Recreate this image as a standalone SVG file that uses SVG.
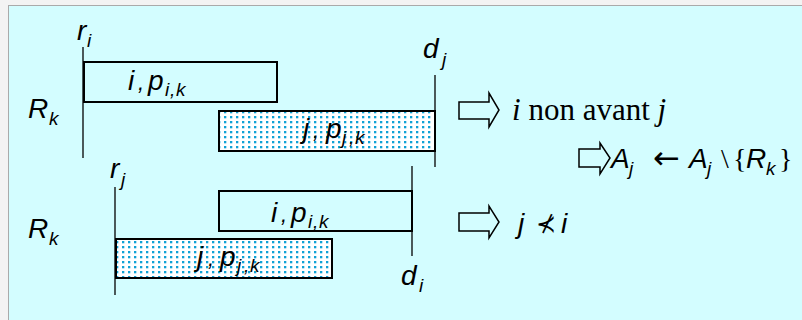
<svg xmlns="http://www.w3.org/2000/svg" width="802" height="320" viewBox="0 0 802 320">
<defs>
<pattern id="dots" x="0" y="0" width="6" height="5" patternUnits="userSpaceOnUse">
<rect x="0" y="0" width="6" height="5" fill="#ffffff"/>
<rect x="2" y="1" width="2.3" height="2.3" fill="#0fa2d6"/>
</pattern>
</defs>
<style>
.ax{stroke:#000;stroke-width:1.3;fill:none}
.box{stroke:#000;stroke-width:2;fill:none}
.dot{stroke:#000;stroke-width:2;fill:url(#dots)}
.arr{stroke:#000;stroke-width:1.5;fill:none;stroke-linejoin:miter}
.t{font-family:"Liberation Sans",Arial,sans-serif;font-style:italic;font-size:28px;fill:#000}
.s{font-size:19px}
.c{font-size:22px}
.tm{font-family:"Liberation Serif","Times New Roman",serif;font-size:31px;fill:#000}
.br{font-family:"Liberation Serif","Times New Roman",serif;font-size:28px;fill:#000}
</style>
<rect x="0" y="0" width="802" height="320" fill="#f3f3f3"/>
<rect x="8.5" y="5.5" width="800" height="320" fill="#d3fdff" stroke="#aaaaaa" stroke-width="1"/>

<g id="top">
<g id="ri">
<line class="ax" x1="83" y1="47" x2="83" y2="158"/>
<text class="t" x="77" y="40">r<tspan class="s" x="87" y="47">i</tspan></text>
</g>
<g id="dj">
<line class="ax" x1="435" y1="75" x2="435" y2="167"/>
<text class="t" x="423" y="58">d<tspan class="s" x="442" y="66">j</tspan></text>
</g>
<text class="t" x="28" y="118">R<tspan class="s" x="49" y="125">k</tspan></text>
<g id="task-i-top">
<rect class="box" x="84" y="62" width="193" height="40"/>
<text class="t" x="128" y="90">i<tspan class="c" x="138" y="90">,</tspan><tspan x="148" y="90">p</tspan><tspan class="s" x="165" y="96">i</tspan><tspan class="s" x="170" y="96">,</tspan><tspan class="s" x="176" y="96">k</tspan></text>
</g>
<g id="task-j-top">
<rect class="dot" x="219" y="111" width="216" height="40"/>
<text class="t" x="303" y="138">j<tspan class="c" x="313" y="138">,</tspan><tspan x="326" y="138">p</tspan><tspan class="s" x="342" y="144">j</tspan><tspan class="s" x="349" y="144">,</tspan><tspan class="s" x="355" y="144">k</tspan></text>
</g>
</g>

<g id="bottom">
<g id="rj">
<line class="ax" x1="115" y1="187" x2="115" y2="295"/>
<text class="t" x="110" y="178">r<tspan class="s" x="121" y="186">j</tspan></text>
</g>
<g id="di">
<line class="ax" x1="412" y1="166" x2="412" y2="256"/>
<text class="t" x="401" y="285">d<tspan class="s" x="419" y="292">i</tspan></text>
</g>
<text class="t" x="28" y="238">R<tspan class="s" x="49" y="245">k</tspan></text>
<g id="task-i-bot">
<rect class="box" x="219" y="191" width="193" height="40"/>
<text class="t" x="271" y="222">i<tspan class="c" x="281" y="222">,</tspan><tspan x="291" y="222">p</tspan><tspan class="s" x="308" y="228">i</tspan><tspan class="s" x="313" y="228">,</tspan><tspan class="s" x="319" y="228">k</tspan></text>
</g>
<g id="task-j-bot">
<rect class="dot" x="116" y="239" width="216" height="39"/>
<text class="t" x="197" y="266">j<tspan class="c" x="208" y="266">,</tspan><tspan x="220" y="266">p</tspan><tspan class="s" x="237" y="272">j</tspan><tspan class="s" x="244" y="272">,</tspan><tspan class="s" x="250" y="272">k</tspan></text>
</g>
</g>

<g id="connectors">
<polygon class="arr" points="459,102 489,102 489,93 499,110 489,127 489,119 459,119"/>
<polygon class="arr" points="579,149 600,149 600,143 610,158 600,174 600,167 579,167"/>
<polygon class="arr" points="459,213 489,213 489,206 499,222 489,238 489,231 459,231"/>
</g>

<g id="result1">
<text class="tm" x="512" y="120"><tspan font-style="italic">i</tspan> non avant <tspan font-style="italic">j</tspan></text>
</g>
<g id="result2">
<text class="t" x="611" y="168">A<tspan class="s" x="629" y="175">j</tspan></text>
<text x="653" y="169" font-family="'DejaVu Sans',sans-serif" font-size="32" fill="#000">←</text>
<text class="t" x="689" y="168">A<tspan class="s" x="707" y="175">j</tspan></text>
<text class="br" x="721" y="168">\</text>
<text class="br" x="733" y="168">{</text>
<text class="t" x="746" y="168">R<tspan class="s" x="766" y="175">k</tspan></text>
<text class="br" x="779" y="168">}</text>
</g>
<g id="result3">
<text class="t" x="518" y="233">j</text>
<text x="536" y="232" font-family="'DejaVu Sans',sans-serif" font-size="24" fill="#000">⊀</text>
<text class="t" x="561" y="233">i</text>
</g>
</svg>
